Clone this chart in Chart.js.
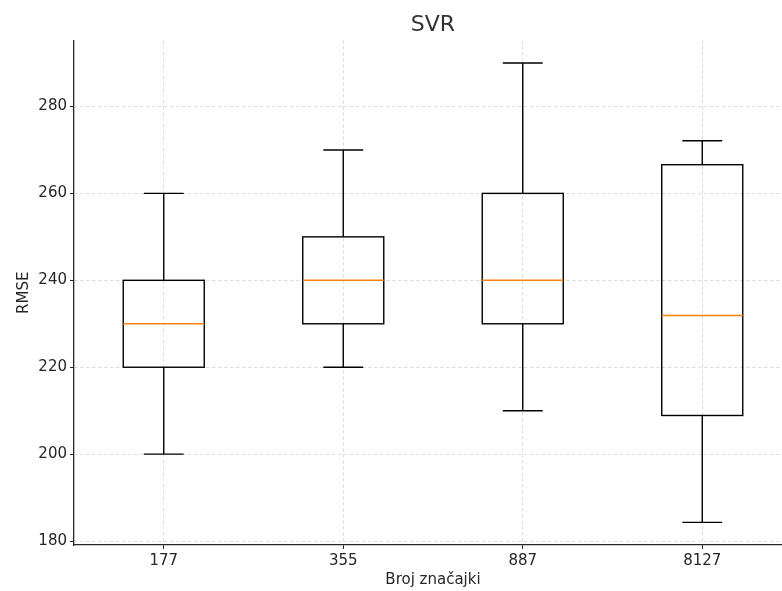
<!DOCTYPE html>
<html>
<head>
<meta charset="utf-8">
<script src="https://cdn.jsdelivr.net/npm/chart.js@4"></script>
<style>
  html, body { margin: 0; padding: 0; background: #fff; overflow: hidden; }
  #crop { width: 782px; height: 591px; overflow: hidden; }
  #wrap { width: 866px; height: 591px; }
</style>
</head>
<body>
<div id="crop"><div id="wrap"><canvas id="chart"></canvas></div></div>
<script>
// ── Data ──────────────────────────────────────────────────────────────────
const categories = ["177", "355", "887", "8127"];
const whiskerLow  = [200, 220, 210, 184.3];
const q1          = [220, 230, 230, 208.9];
const median      = [230, 240, 240, 231.9];
const q3          = [240, 250, 260, 266.6];
const whiskerHigh = [260, 270, 290, 272.1];
const yTicks = [180, 200, 220, 240, 260, 280];

const FONT = "'DejaVu Sans', sans-serif";
const BOX_HALF = 0.2257;   // half box width, in category units
const CAP_HALF = 0.111;    // half whisker cap width

// ── Box plot drawing via the chart's own scales ──────────────────────────
const boxPlugin = {
  id: "boxplot",
  afterDatasetsDraw(chart) {
    const { ctx, scales: { x, y } } = chart;
    ctx.save();
    ctx.lineCap = "butt";
    categories.forEach((_, i) => {
      const c = i + 1;
      const xl = x.getPixelForValue(c - BOX_HALF);
      const xr = x.getPixelForValue(c + BOX_HALF);
      const xc = x.getPixelForValue(c);
      const cl = x.getPixelForValue(c - CAP_HALF);
      const cr = x.getPixelForValue(c + CAP_HALF);
      const yq1 = y.getPixelForValue(q1[i]);
      const yq3 = y.getPixelForValue(q3[i]);
      const ylo = y.getPixelForValue(whiskerLow[i]);
      const yhi = y.getPixelForValue(whiskerHigh[i]);
      const ymed = y.getPixelForValue(median[i]);

      ctx.strokeStyle = "#000";
      ctx.lineWidth = 1.4;
      ctx.strokeRect(xl, yq3, xr - xl, yq1 - yq3);

      ctx.beginPath();
      ctx.moveTo(xc, yq3); ctx.lineTo(xc, yhi);
      ctx.moveTo(xc, yq1); ctx.lineTo(xc, ylo);
      ctx.moveTo(cl, yhi); ctx.lineTo(cr, yhi);
      ctx.moveTo(cl, ylo); ctx.lineTo(cr, ylo);
      ctx.stroke();

      ctx.strokeStyle = "#ff7f0e";
      ctx.lineWidth = 1.4;
      ctx.beginPath();
      ctx.moveTo(xl, ymed); ctx.lineTo(xr, ymed);
      ctx.stroke();
    });
    ctx.restore();
  }
};

const ctx = document.getElementById("chart").getContext("2d");
new Chart(ctx, {
  type: "scatter",
  data: { datasets: [{ data: [], pointRadius: 0 }] },
  options: {
    responsive: true,
    maintainAspectRatio: false,
    animation: false,
    layout: { padding: 0 },
    scales: {
      x: {
        type: "linear",
        min: 0.5,
        max: 4.5,
        afterBuildTicks: s => { s.ticks = categories.map((_, i) => ({ value: i + 1 })); },
        afterFit: s => { s.height = 46; },
        ticks: {
          callback: v => categories[v - 1],
          color: "#262626",
          font: { family: FONT, size: 15 },
          padding: 3,
          maxRotation: 0,
        },
        grid: {
          color: "rgba(176,176,176,0.6)",
          lineWidth: 0.8,
          tickLength: 4,
          tickColor: "#262626",
          tickWidth: 1,
          tickBorderDash: [],
        },
        border: { display: true, color: "#262626", width: 1.3, dash: [3, 3] },
        title: {
          display: true,
          text: "Broj značajki",
          color: "#262626",
          font: { family: FONT, size: 15 },
          padding: { top: 0, bottom: 2 },
        },
      },
      y: {
        min: 179.1,
        max: 295.2,
        afterBuildTicks: s => { s.ticks = yTicks.map(v => ({ value: v })); },
        afterFit: s => { s.width = 74; },
        ticks: {
          color: "#262626",
          font: { family: FONT, size: 15 },
          padding: 3,
        },
        grid: {
          color: "rgba(176,176,176,0.6)",
          lineWidth: 0.8,
          tickLength: 4,
          tickColor: "#262626",
          tickWidth: 1,
          tickBorderDash: [],
        },
        border: { display: true, color: "#262626", width: 1.3, dash: [3, 3] },
        title: {
          display: true,
          text: "RMSE",
          color: "#262626",
          font: { family: FONT, size: 15 },
          padding: { top: 15, bottom: 0 },
        },
      },
      // empty right-hand margin so the axes sit where the reference figure had them
      yRight: {
        position: "right",
        min: 179.1,
        max: 295.2,
        afterFit: s => { s.width = 74; },
        ticks: { display: false },
        grid: { display: false },
        border: { display: false },
      },
    },
    plugins: {
      legend: { display: false },
      tooltip: { enabled: false },
      title: {
        display: true,
        text: "SVR",
        color: "#333",
        font: { family: FONT, size: 22, weight: "normal" },
        padding: { top: 12, bottom: 2 },
      },
    },
  },
  plugins: [boxPlugin],
});
</script>
</body>
</html>
